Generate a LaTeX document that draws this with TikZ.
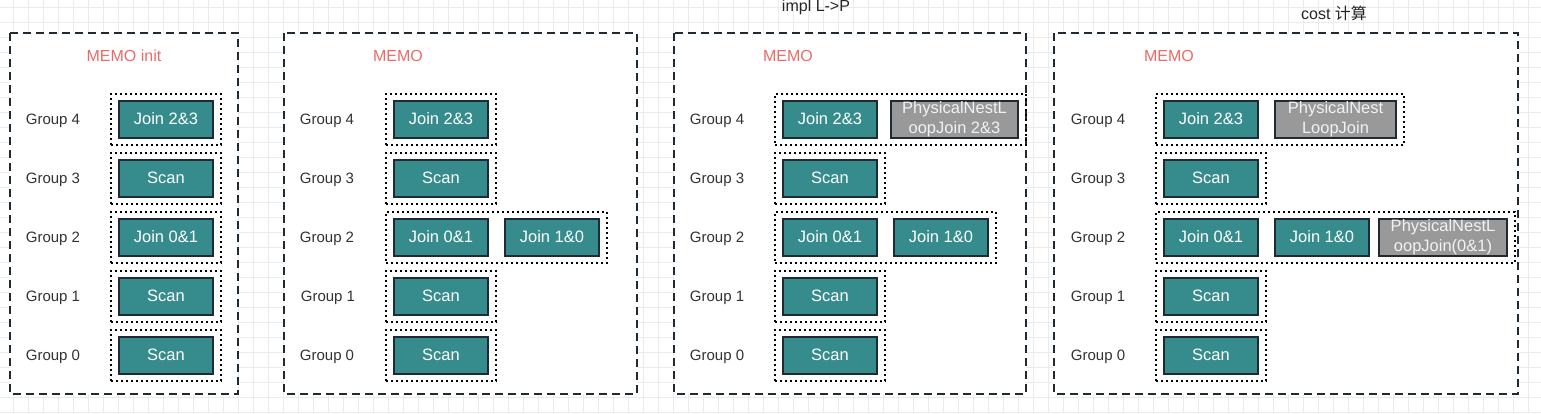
\documentclass[tikz,border=0pt]{standalone}
\usepackage{fontspec}
\setmainfont{Liberation Sans}
\newfontfamily\cjkfont{Noto Sans CJK SC}
\usetikzlibrary{positioning, fit}

\definecolor{opteal}{HTML}{368C8C}
\definecolor{opgray}{HTML}{999999}
\definecolor{edgedark}{HTML}{1F2A33}
\definecolor{memored}{HTML}{EA6B66}
\definecolor{gridgray}{HTML}{EBEBEB}

\tikzset{
	memo/.style={draw=edgedark, line width=2pt, dash pattern=on 8pt off 5pt, fill=white},
	grp/.style={draw=black, line width=2pt, dash pattern=on 2pt off 3pt, inner xsep=7pt, inner ysep=6pt},
	op/.style={draw=edgedark, line width=2pt, fill=opteal, text=white, minimum width=94pt, minimum height=37pt, inner sep=0pt, font=\fontsize{16.5}{19.5}\selectfont},
	phys/.style={op, fill=opgray, align=center, text=white!95!black},
	glabel/.style={text=black!80, font=\fontsize{15}{18}\selectfont, yshift=-1.5pt},
	memolabel/.style={text=memored, font=\fontsize{16}{19}\selectfont},
	title/.style={text=black!85, font=\fontsize{16}{19}\selectfont}
}

\begin{document}
\begin{tikzpicture}[x=1pt, y=-1pt, node distance=15pt]
			\useasboundingbox (0,0) rectangle (1541,413);
			\foreach \gx in {13,28,...,1541} \draw[gridgray, line width=0.8pt] (\gx,0) -- (\gx,413);
			\foreach \gy in {7,22,...,413} \draw[gridgray, line width=0.8pt] (0,\gy) -- (1541,\gy);

			\node[title] (t3) at (816,7) {impl L->P};
			\node[title] (t4) at (1334,13) {cost {\cjkfont 计算}};

			% MEMO init
			\draw[memo] (10,33) rectangle (238,394);
			\node[memolabel] (m1) at (124,56) {MEMO init};
			\node[glabel] (a4) at (53,119) {Group 4};
			\node[glabel] (a3) at (53,178) {Group 3};
			\node[glabel] (a2) at (53,237) {Group 2};
			\node[glabel] (a1) at (53,296) {Group 1};
			\node[glabel] (a0) at (53,355) {Group 0};
			\node[op] (a4j) at (166,119) {Join 2\&3};
			\node[op] (a3s) at (166,178) {Scan};
			\node[op] (a2j) at (166,237) {Join 0\&1};
			\node[op] (a1s) at (166,296) {Scan};
			\node[op] (a0s) at (166,355) {Scan};
			\node[grp, fit=(a4j)] {};
			\node[grp, fit=(a3s)] {};
			\node[grp, fit=(a2j)] {};
			\node[grp, fit=(a1s)] {};
			\node[grp, fit=(a0s)] {};

			% MEMO after explore
			\draw[memo] (284,33) rectangle (637,394);
			\node[memolabel] (m2) at (398,56) {MEMO};
			\node[glabel] (b4) at (327,119) {Group 4};
			\node[glabel] (b3) at (327,178) {Group 3};
			\node[glabel] (b2) at (327,237) {Group 2};
			\node[glabel] (b1) at (328,296) {Group 1};
			\node[glabel] (b0) at (327,355) {Group 0};
			\node[op] (b4j) at (441,119) {Join 2\&3};
			\node[op] (b3s) at (441,178) {Scan};
			\node[op] (b2j) at (441,237) {Join 0\&1};
			\node[op, right=of b2j] (b2k) {Join 1\&0};
			\node[op] (b1s) at (441,296) {Scan};
			\node[op] (b0s) at (441,355) {Scan};
			\node[grp, fit=(b4j)] {};
			\node[grp, fit=(b3s)] {};
			\node[grp, fit=(b2j)(b2k)] {};
			\node[grp, fit=(b1s)] {};
			\node[grp, fit=(b0s)] {};

			% impl L->P
			\draw[memo] (674,33) rectangle (1026,394);
			\node[memolabel] (m3) at (788,56) {MEMO};
			\node[glabel] (c4) at (717,119) {Group 4};
			\node[glabel] (c3) at (717,178) {Group 3};
			\node[glabel] (c2) at (717,237) {Group 2};
			\node[glabel] (c1) at (717,296) {Group 1};
			\node[glabel] (c0) at (717,355) {Group 0};
			\node[op] (c4j) at (830,119) {Join 2\&3};
			\node[phys, minimum width=127pt, right=12pt of c4j] (c4p) {PhysicalNestL\\oopJoin 2\&3};
			\node[op] (c3s) at (830,178) {Scan};
			\node[op] (c2j) at (830,237) {Join 0\&1};
			\node[op, right=of c2j] (c2k) {Join 1\&0};
			\node[op] (c1s) at (830,296) {Scan};
			\node[op] (c0s) at (830,355) {Scan};
			\node[grp, fit=(c4j)(c4p)] {};
			\node[grp, fit=(c3s)] {};
			\node[grp, fit=(c2j)(c2k)] {};
			\node[grp, fit=(c1s)] {};
			\node[grp, fit=(c0s)] {};

			% cost
			\draw[memo] (1054,33) rectangle (1518,394);
			\node[memolabel] (m4) at (1169,56) {MEMO};
			\node[glabel] (d4) at (1098,119) {Group 4};
			\node[glabel] (d3) at (1098,178) {Group 3};
			\node[glabel] (d2) at (1098,237) {Group 2};
			\node[glabel] (d1) at (1098,296) {Group 1};
			\node[glabel] (d0) at (1098,355) {Group 0};
			\node[op] (d4j) at (1211,119) {Join 2\&3};
			\node[phys, minimum width=121pt, right=of d4j] (d4p) {PhysicalNest\\LoopJoin};
			\node[op] (d3s) at (1211,178) {Scan};
			\node[op] (d2j) at (1211,237) {Join 0\&1};
			\node[op, right=of d2j] (d2k) {Join 1\&0};
			\node[phys, minimum width=128pt, right=8pt of d2k] (d2p) {PhysicalNestL\\oopJoin(0\&1)};
			\node[op] (d1s) at (1211,296) {Scan};
			\node[op] (d0s) at (1211,355) {Scan};
			\node[grp, fit=(d4j)(d4p)] {};
			\node[grp, fit=(d3s)] {};
			\node[grp, fit=(d2j)(d2k)(d2p)] {};
			\node[grp, fit=(d1s)] {};
			\node[grp, fit=(d0s)] {};
\end{tikzpicture}
\end{document}
